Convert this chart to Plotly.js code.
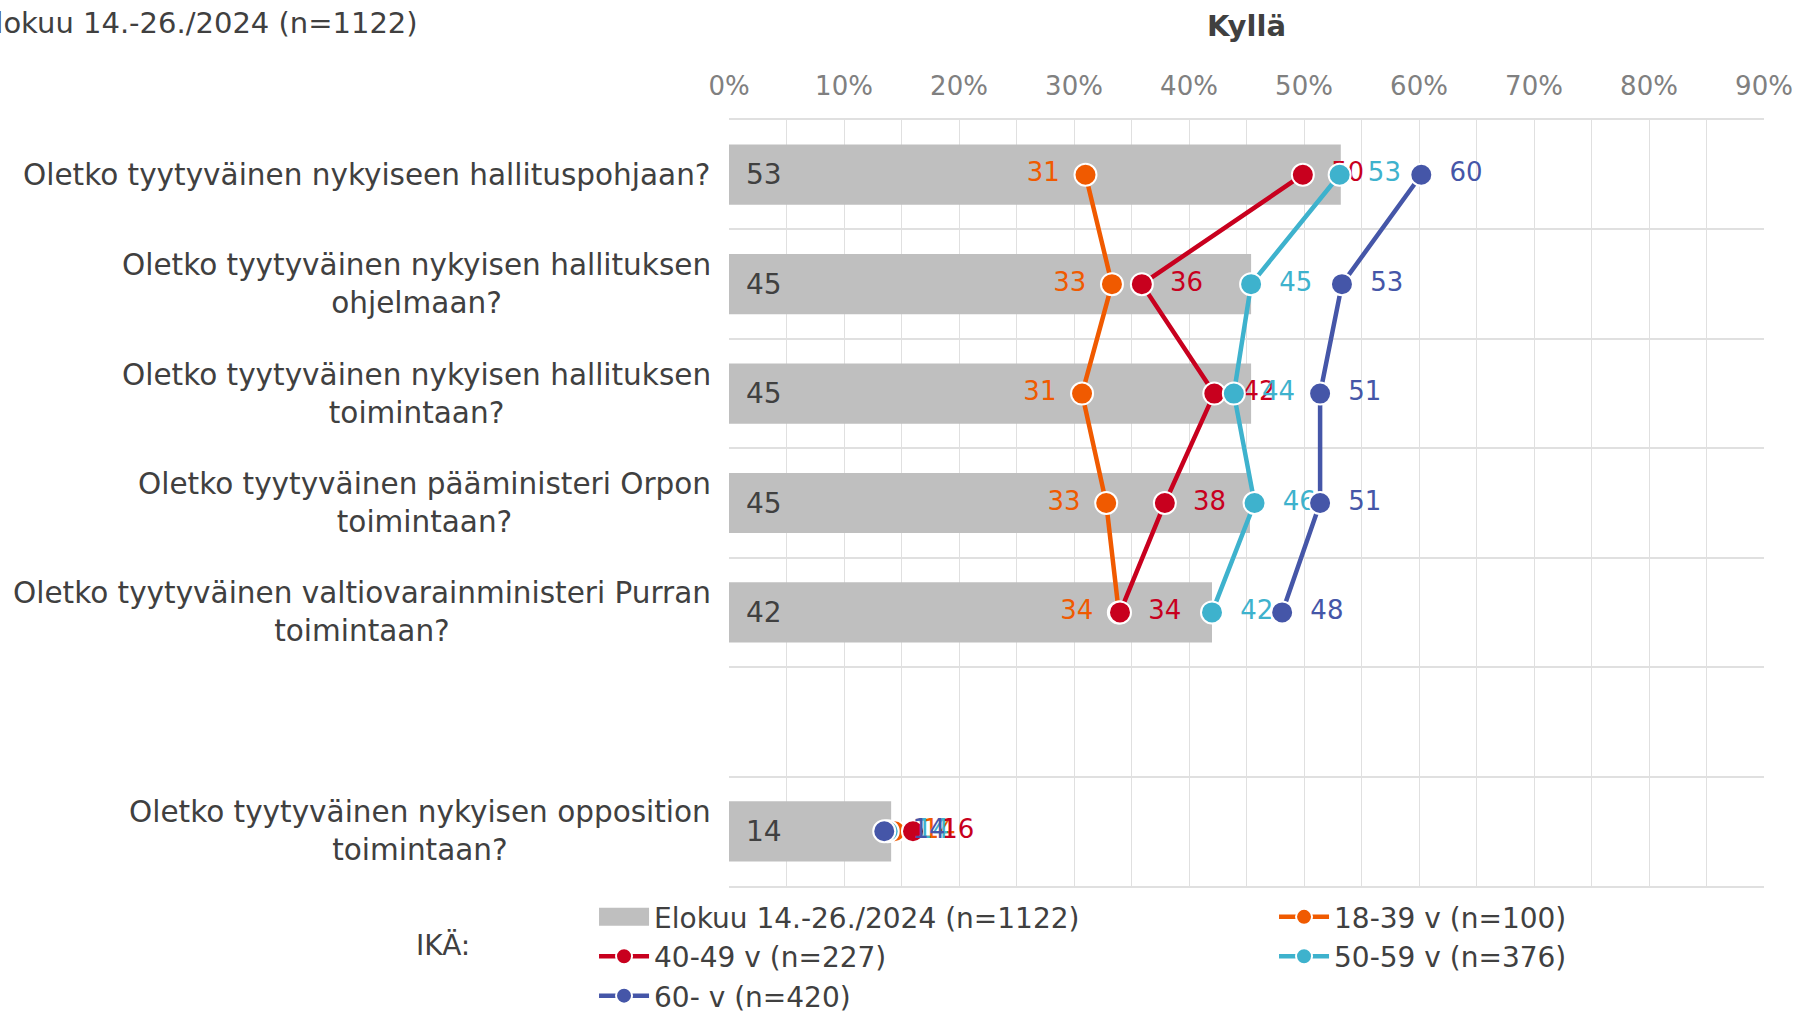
<!DOCTYPE html>
<html><head><meta charset="utf-8">
<script src="https://cdn.plot.ly/plotly-3.0.1.min.js"></script>
<style>html,body{margin:0;padding:0;background:#fff;}#chart{width:1798px;height:1014px;}</style>
</head><body><div id="chart"></div>
<script>
const categories = [
  "Oletko tyytyväinen nykyiseen hallituspohjaan?",
  "Oletko tyytyväinen nykyisen hallituksen<br>ohjelmaan?",
  "Oletko tyytyväinen nykyisen hallituksen<br>toimintaan?",
  "Oletko tyytyväinen pääministeri Orpon<br>toimintaan?",
  "Oletko tyytyväinen valtiovarainministeri Purran<br>toimintaan?",
  " ",
  "Oletko tyytyväinen nykyisen opposition<br>toimintaan?"
];
const totalValues = [53.2, 45.4, 45.4, 45.3, 42.0, null, 14.1];
const age18_39 = [31.0, 33.3, 30.7, 32.8, 33.9, null, 14.4];
const age40_49 = [49.9, 35.9, 42.2, 37.9, 34.0, null, 16.0];
const age50_59 = [53.1, 45.4, 43.9, 45.7, 42.0, null, 13.8];
const age60 = [60.2, 53.3, 51.4, 51.4, 48.1, null, 13.5];
const seriesNames = ["Elokuu 14.-26./2024 (n=1122)", "18-39 v (n=100)", "40-49 v (n=227)", "50-59 v (n=376)", "60- v (n=420)"];
const xTickVals = [0, 10, 20, 30, 40, 50, 60, 70, 80, 90];
const xTickText = ["0%", "10%", "20%", "30%", "40%", "50%", "60%", "70%", "80%", "90%"];
const chartTitle = "Kyllä";
const legendTitle = "IKÄ:";

const FONT = "DejaVu Sans";
const colors = ["#bfbfbf", "#f05a00", "#c8001e", "#3eb2cd", "#4556a8"];
const GRID = "#e0e0e0";

function lineTrace(vals, name, color, textpos, tmpl) {
  return {
    type: "scatter", mode: "lines+markers+text", name: name,
    x: vals, y: categories, connectgaps: false,
    line: {color: color, width: 4.5},
    marker: {color: color, size: 22, line: {color: "#ffffff", width: 2}},
    textposition: textpos, texttemplate: tmpl,
    textfont: {family: FONT, size: 26, color: color},
    hoverinfo: "skip", cliponaxis: false
  };
}
const rightTmpl = "\u00a0\u2009%{x:.0f}";
const leftTmpl = "%{x:.0f}\u00a0\u200a";

const traces = [
  {
    type: "bar", orientation: "h", name: seriesNames[0],
    x: totalValues, y: categories, width: 0.55,
    marker: {color: colors[0]},
    texttemplate: "\u2002%{x:.0f}", textposition: "inside", insidetextanchor: "start",
    textfont: {family: FONT, size: 28, color: "#404040"},
    hoverinfo: "skip"
  },
  lineTrace(age18_39, seriesNames[1], colors[1],
    ["middle left","middle left","middle left","middle left","middle left","middle left","middle right"],
    [leftTmpl,leftTmpl,leftTmpl,leftTmpl,leftTmpl,leftTmpl,rightTmpl]),
  lineTrace(age40_49, seriesNames[2], colors[2], "middle right", rightTmpl),
  lineTrace(age50_59, seriesNames[3], colors[3], "middle right", rightTmpl),
  lineTrace(age60, seriesNames[4], colors[4], "middle right", rightTmpl)
];

const annotations = categories.filter(c => c.trim() !== "").map(c => ({
  text: c, xref: "paper", x: 0, xanchor: "right", xshift: -16,
  yref: "y", y: c, yanchor: "middle", align: "center", showarrow: false,
  font: {family: FONT, size: 29.5, color: "#404040"}
}));
annotations.push({
  text: seriesNames[0], xref: "paper", x: -0.2985, xanchor: "right",
  yref: "paper", y: 1.1266, yanchor: "middle", showarrow: false,
  font: {family: FONT, size: 29, color: "#404040"}
});
annotations.push({
  text: legendTitle, xref: "paper", x: -0.2767, xanchor: "center",
  yref: "paper", y: -0.0783, yanchor: "middle", showarrow: false,
  font: {family: FONT, size: 28, color: "#404040"}
});

const layout = {
  width: 1798, height: 1014,
  margin: {l: 729, r: 34, t: 120, b: 128, autoexpand: false},
  paper_bgcolor: "#ffffff", plot_bgcolor: "#ffffff",
  font: {family: FONT, color: "#404040"},
  title: {text: "<b>" + chartTitle + "</b>", x: 0.5, xref: "paper", xanchor: "center",
    y: 0.975, yref: "container", yanchor: "middle",
    font: {family: FONT, size: 29, color: "#404040"}},
  xaxis: {
    side: "top", range: [0, 90], tickmode: "array", tickvals: xTickVals, ticktext: xTickText,
    showgrid: true, gridcolor: GRID, gridwidth: 1, zeroline: false,
    showline: true, mirror: true, linecolor: GRID, linewidth: 2,
    ticks: "", ticklabelstandoff: 13,
    tickfont: {family: FONT, size: 26, color: "#808080"},
    minor: {dtick: 5, showgrid: true, gridcolor: GRID, gridwidth: 1},
    fixedrange: true
  },
  yaxis: {
    type: "category", categoryorder: "array", categoryarray: categories,
    autorange: "reversed", tickson: "boundaries",
    showgrid: true, gridcolor: GRID, gridwidth: 2,
    showticklabels: false, ticks: "", zeroline: false, showline: false,
    fixedrange: true
  },
  showlegend: true,
  legend: {
    orientation: "h", x: -0.1304, xanchor: "left", y: -0.008, yanchor: "top",
    entrywidth: 615, entrywidthmode: "pixels", itemwidth: 50, maxheight: 400,
    font: {family: FONT, size: 28, color: "#404040"},
    traceorder: "normal", bgcolor: "rgba(0,0,0,0)"
  },
  annotations: annotations,
  bargap: 0.45
};

Plotly.newPlot("chart", traces, layout, {displayModeBar: false, staticPlot: true}).then(function (gd) {
  // widen the bar's legend swatch to a rectangle like the reference
  const pts = gd.querySelectorAll(".legend .traces .legendpoints path.legendundefined, .legend .traces .legendbar path");
  pts.forEach(function (p) { p.setAttribute("d", "M25,9H-25V-9H25Z"); });
});
</script>
</body></html>
